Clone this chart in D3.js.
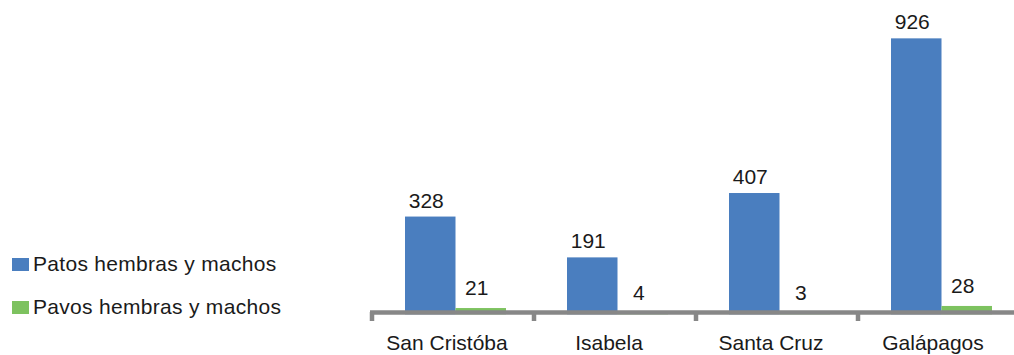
<!DOCTYPE html>
<html>
<head>
<meta charset="utf-8">
<script src="https://cdn.jsdelivr.net/npm/d3@7"></script>
<style>
  html, body { margin: 0; padding: 0; background: #fff; }
  svg { display: block; font-family: "Liberation Sans", Arial, sans-serif; }
</style>
</head>
<body>
<svg id="chart" width="1014" height="355"></svg>
<script>
const categories = ["San Cristóba", "Isabela", "Santa Cruz", "Galápagos"];
const seriesNames = ["Patos hembras y machos", "Pavos hembras y machos"];
const patos = [328, 191, 407, 926];
const pavos = [21, 4, 3, 28];
const colors = ["#4A7EBF", "#7DC25F"];

const svg = d3.select("#chart");
const W = 1014, H = 355;

const x = d3.scaleBand().domain(categories).range([372, 1020]).paddingInner(0).paddingOuter(0);
const xs = d3.scaleBand().domain(seriesNames).range([33, 134]).padding(0);
const y = d3.scaleLinear().domain([0, 1000]).range([314.3, 16.3]);

const seriesValues = [patos, pavos];
const data = [];
categories.forEach((c, i) => {
  seriesNames.forEach((s, j) => data.push({ cat: c, ser: s, si: j, v: seriesValues[j][i] }));
});

// bars
svg.append("g").selectAll("rect").data(data).join("rect")
  .attr("x", d => x(d.cat) + xs(d.ser))
  .attr("width", xs.bandwidth())
  .attr("y", d => y(d.v))
  .attr("height", d => y(0) - y(d.v))
  .attr("fill", d => colors[d.si]);

// value labels
svg.append("g").selectAll("text").data(data).join("text")
  .attr("x", d => x(d.cat) + xs(d.ser) + xs.bandwidth() / 2 - 4)
  .attr("y", d => y(d.v) - (d.si === 0 ? 9 : 13))
  .attr("text-anchor", "middle")
  .attr("font-size", 21)
  .attr("fill", "#1a1a1a")
  .text(d => d.v);

// axis
const axisG = svg.append("g");
axisG.append("line")
  .attr("x1", 370).attr("x2", W)
  .attr("y1", 312.5).attr("y2", 312.5)
  .attr("stroke", "#878787").attr("stroke-width", 4.5);
const tickPos = categories.map(c => x(c)).concat([x.range()[1]]);
axisG.selectAll("line.tick").data(tickPos).join("line")
  .attr("class", "tick")
  .attr("x1", d => d).attr("x2", d => d)
  .attr("y1", 312).attr("y2", 321)
  .attr("stroke", "#878787").attr("stroke-width", 4.5);

// category labels
axisG.selectAll("text").data(categories).join("text")
  .attr("x", d => x(d) + x.bandwidth() / 2 - 6)
  .attr("y", 350)
  .attr("text-anchor", "middle")
  .attr("font-size", 21)
  .attr("fill", "#1a1a1a")
  .text(d => d);

// legend
const legendY = [271, 314];
const leg = svg.append("g").selectAll("g").data(seriesNames).join("g");
leg.append("rect")
  .attr("x", 12)
  .attr("y", (d, i) => legendY[i] - 13)
  .attr("width", 17).attr("height", 13)
  .attr("fill", (d, i) => colors[i]);
leg.append("text")
  .attr("x", 33)
  .attr("y", (d, i) => legendY[i])
  .attr("font-size", 21)
  .attr("fill", "#1a1a1a")
  .style("letter-spacing", "0.3px")
  .text(d => d);
</script>
</body>
</html>
